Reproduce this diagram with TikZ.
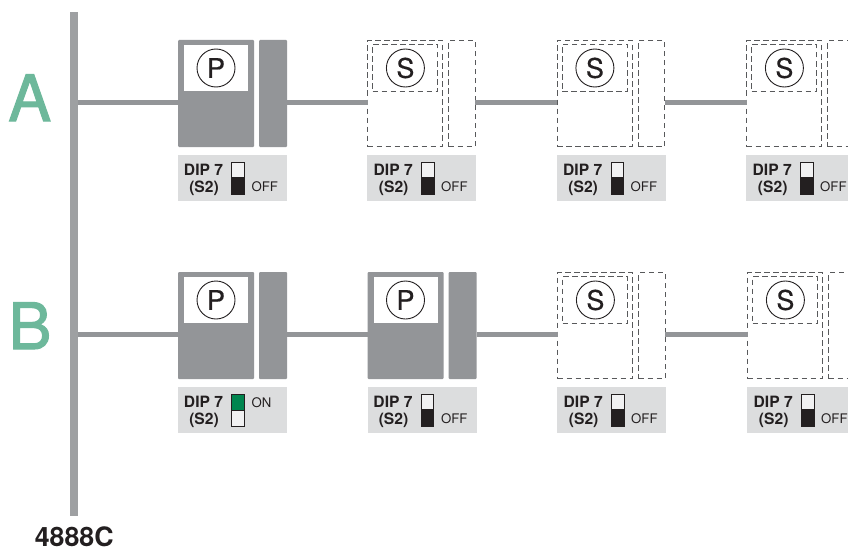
\documentclass[tikz,border=0pt]{standalone}
\usepackage{fontspec}
\setmainfont{TeX Gyre Heros}
\newfontfamily\heavyfont[FakeBold=1.6]{TeX Gyre Heros}
\newfontfamily\midfont[FakeBold=0.4]{TeX Gyre Heros}
\definecolor{busgrey}{HTML}{939598}
\definecolor{panelgrey}{HTML}{DCDDDE}
\definecolor{swdark}{HTML}{231F20}
\definecolor{swgreen}{HTML}{00854F}
\definecolor{lettergreen}{HTML}{6DB89B}
\definecolor{dashgrey}{HTML}{58595B}
\definecolor{swpale}{HTML}{F1F1F2}
\tikzset{
  box/.style={inner sep=0pt,outer sep=0pt,rectangle,minimum width=#1},
  solidunit/.style={fill=busgrey,draw=none,rounded corners=1pt},
  dashunit/.style={draw=dashgrey,line width=1.1pt,dash pattern=on 5.4pt off 3.6pt},
  wire/.style={draw=busgrey,line width=5pt},
  letter/.style={text=lettergreen,font=\heavyfont\fontsize{64}{64}\selectfont,anchor=base,inner sep=0pt},
  dipt/.style={font=\bfseries\fontsize{15.6}{16}\selectfont,text=swdark,anchor=base,inner sep=0pt},
  statet/.style={font=\fontsize{13.2}{13}\selectfont,text=swdark,anchor=base west,inner sep=0pt},
  sig/.style={circle,draw=swdark,line width=0.9pt,minimum size=38pt,inner sep=0pt,font=\midfont\fontsize{27}{27}\selectfont,text=swdark},
}
\newcommand{\commonparts}[3]{%
  \node[box=109pt,minimum height=46pt,fill=panelgrey] (#1panel) at (#3+54.5,138) {};
  \node[dipt] (#1dip) at (25.5,135.7) {DIP 7};
  \node[dipt] (#1sii) at (26,152) {(S2)};
  \coordinate (#1in) at (0,62);
  \coordinate (#1out) at (#2,62);
}
\newcommand{\offswitch}[1]{%
  \node[box=12.5pt,minimum height=32pt,draw=swdark,line width=0.9pt,fill=swpale] (#1sw) at (60,138) {};
  \node[box=12.5pt,minimum height=17pt,fill=swdark] (#1knob) at (60,145.5) {};
  \node[statet] (#1state) at (73.3,151) {OFF};
}
\newcommand{\onswitch}[1]{%
  \node[box=12.5pt,minimum height=32pt,draw=swdark,line width=0.9pt,fill=swpale] (#1sw) at (60,138) {};
  \node[box=12.5pt,minimum height=16pt,fill=swgreen,draw=swdark,line width=0.9pt] (#1knob) at (60,130) {};
  \node[statet] (#1state) at (73.3,135) {ON};
}
\newcommand{\punit}[4]{\begin{scope}[shift={(#2,#3)}]
  \node[box=76pt,minimum height=107pt,solidunit] (#1main) at (38,53.5) {};
  \node[box=28pt,minimum height=107pt,solidunit] (#1side) at (95,53.5) {};
  \node[box=64pt,minimum height=46pt,fill=white] (#1win) at (38,28) {};
  \node[sig] (#1sig) at (38,28) {P};
  \commonparts{#1}{109}{0}
  #4{#1}
\end{scope}}
\newcommand{\sunit}[4]{\begin{scope}[shift={(#2,#3)}]
  \node[box=75pt,minimum height=106pt,dashunit] (#1main) at (37.5,53.5) {};
  \node[box=26.6pt,minimum height=106pt,dashunit] (#1side) at (94.3,53.5) {};
  \node[box=65pt,minimum height=47pt,dashunit] (#1win) at (37.5,28) {};
  \node[sig] (#1sig) at (37.7,28) {S};
  \commonparts{#1}{107.6}{-0.7}
  #4{#1}
\end{scope}}
\begin{document}
\begin{tikzpicture}[x=1pt,y=-1pt]
\useasboundingbox (0,0) rectangle (848,551);
\fill[white] (0,0) rectangle (848,551);
\clip (0,0) rectangle (848,551);
% units, row A
\punit{aa}{178}{40}{\offswitch}
\sunit{ab}{367.7}{40}{\offswitch}
\sunit{ac}{557.2}{40}{\offswitch}
\sunit{ad}{746.7}{40}{\offswitch}
% units, row B
\punit{ba}{178}{272}{\onswitch}
\punit{bb}{367.5}{272}{\offswitch}
\sunit{bc}{557.7}{272}{\offswitch}
\sunit{bd}{747.7}{272}{\offswitch}
% bus
\node[box=8.5pt,minimum height=504pt,fill=busgrey!90!white] (bus) at (74.2,264) {};
% connectors
\draw[wire] (bus.east |- aain) -- (aain);
\draw[wire] (aaout) -- (abin);
\draw[wire] (about) -- (acin);
\draw[wire] (acout) -- (adin);
\draw[wire] (bus.east |- bain) -- (bain);
\draw[wire] (baout) -- (bbin);
\draw[wire] (bbout) -- (bcin);
\draw[wire] (bcout) -- (bdin);
% labels
\node[letter] (la) at (29.7,121) {A};
\node[letter] (lb) at (30,349) {B};
\node[font=\bfseries\fontsize{26.7}{27}\selectfont,text=swdark,anchor=base,inner sep=0pt] (code) at (74.2,546.5) {4888C};
\end{tikzpicture}
\end{document}
